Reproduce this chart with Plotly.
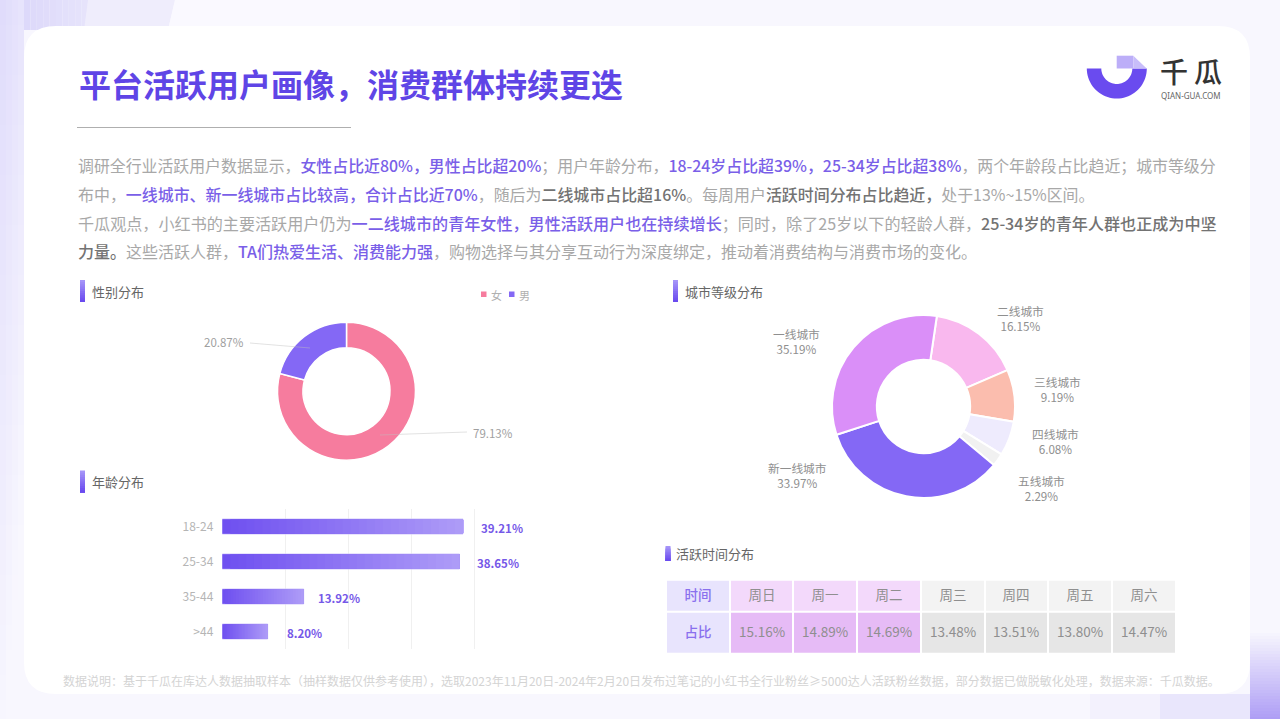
import math
import plotly.graph_objects as go

W, H = 1280, 719
FONT = "Noto Sans CJK SC"

# ---------- data ----------
title = "平台活跃用户画像，消费群体持续更迭"
P = '<span style="color:#7A5FE8;font-weight:500">'
D = '<span style="color:#737373;font-weight:500">'
E = "</span>"
body_lines = [
    f"调研全行业活跃用户数据显示，{P}女性占比近80%，男性占比超20%{E}；用户年龄分布，{P}18-24岁占比超39%，25-34岁占比超38%{E}，两个年龄段占比趋近；城市等级分",
    f"布中，{P}一线城市、新一线城市占比较高，合计占比近70%{E}，随后为{D}二线城市占比超16%{E}。每周用户{D}活跃时间分布占比趋近，{E}处于13%~15%区间。",
    f"千瓜观点，小红书的主要活跃用户仍为{P}一二线城市的青年女性，男性活跃用户也在持续增长{E}；同时，除了25岁以下的轻龄人群，{D}25-34岁的青年人群也正成为中坚{E}",
    f"{D}力量。{E}这些活跃人群，{P}TA们热爱生活、消费能力强{E}，购物选择与其分享互动行为深度绑定，推动着消费结构与消费市场的变化。",
]
footnote = "数据说明：基于千瓜在库达人数据抽取样本（抽样数据仅供参考使用），选取2023年11月20日-2024年2月20日发布过笔记的小红书全行业粉丝≥5000达人活跃粉丝数据，部分数据已做脱敏化处理，数据来源：千瓜数据。"

gender_labels = ["女", "男"]
gender_values = [79.13, 20.87]

age_labels = ["18-24", "25-34", "35-44", ">44"]
age_values = [39.21, 38.65, 13.92, 8.20]

city_labels = ["二线城市", "三线城市", "四线城市", "五线城市", "新一线城市", "一线城市"]
# Printed shares, as the reference prints them.
city_printed = [16.15, 9.19, 6.08, 2.29, 33.97, 35.19]
# Slice sizes read off the drawn arcs: the 一线城市 arc measures about 32.3%, not its printed 35.19%.
city_arcs = [16.15, 9.19, 6.08, 2.29, 33.97, 32.32]

time_head = "时间"
time_row = "占比"
time_days = ["周日", "周一", "周二", "周三", "周四", "周五", "周六"]
time_values = ["15.16%", "14.89%", "14.69%", "13.48%", "13.51%", "13.80%", "14.47%"]
time_highlight = [1, 1, 1, 0, 0, 0, 0]

# ---------- styles ----------
PINK, VIOLET = "#F67C9E", "#8468F5"
CITY_COLORS = ["#F9B8EE", "#FBBDAE", "#EEEBFD", "#F1F1F1", "#8468F5", "#DA8FF8"]
PAGE = "#F8F7FE"


def px(x):
    return x / W


def py(y):
    return 1 - y / H


shapes, annos = [], []


def rect(x0, y0, x1, y1, color, layer="below"):
    shapes.append(dict(type="rect", xref="paper", yref="paper", x0=px(x0), x1=px(x1), y0=py(y0), y1=py(y1),
                       fillcolor=color, line_width=0, layer=layer))


def poly(points, color, layer="below"):
    d = "M" + "L".join(f"{px(a):.5f},{py(b):.5f}" for a, b in points) + "Z"
    shapes.append(dict(type="path", xref="paper", yref="paper", path=d, fillcolor=color, line_width=0, layer=layer))


def line(x0, y0, x1, y1, color, width=1):
    shapes.append(dict(type="line", xref="paper", yref="paper", x0=px(x0), x1=px(x1), y0=py(y0), y1=py(y1),
                       line=dict(color=color, width=width), layer="above"))


def note(x, y, text, size, color, anchor="left", family=FONT, weight=None):
    font = dict(family=family, size=size, color=color)
    if weight:
        font["weight"] = weight
    annos.append(dict(xref="paper", yref="paper", x=px(x), y=py(y), text=text, showarrow=False, xanchor=anchor,
                      yanchor="middle", font=font, borderpad=0, borderwidth=0))


def mix(a, b, t):
    ca = [int(a[i:i + 2], 16) for i in (1, 3, 5)]
    cb = [int(b[i:i + 2], 16) for i in (1, 3, 5)]
    return "#" + "".join(f"{round(p + (q - p) * t):02X}" for p, q in zip(ca, cb))


# page background: left wash fading downwards and rightwards
for col in range(4):
    for row in range(29):
        t = (col / 3) * 0.3 + (row / 28) * 0.95
        rect(col * 6, row * 25, col * 6 + 6, row * 25 + 25, mix("#E0DCFB", PAGE, min(t, 1)))
for col in range(10):
    rect(24 + col * 6.4, 0, 24 + col * 6.4 + 6.4, 30, mix("#DDD9FA", "#E6E3FB", col / 9))
poly([(88, 0), (175, 0), (168, 30), (84, 30)], "#EFEDFC")
poly([(175, 0), (520, 0), (520, 30), (168, 30)], "#FAF9FF")
# bottom right wash
rect(1090, 694, 1160, H, "#F3F1FD")
rect(1160, 694, 1250, H, "#E9E6FC")
for row in range(30):
    rect(1250, 630 + row * 3, 1280, 630 + row * 3 + 3, mix(PAGE, "#AE9EF5", row / 29))

# white card
cx0, cy0, cx1, cy1, r = 24, 26, 1250, 694, 32
x0, y0, x1, y1 = px(cx0), py(cy0), px(cx1), py(cy1)
rx, ry = r / W, r / H
shapes.append(dict(
    type="path", xref="paper", yref="paper", fillcolor="#FFFFFF", line_width=0, layer="below",
    path=(f"M{x0 + rx},{y0}L{x1 - rx},{y0}Q{x1},{y0} {x1},{y0 - ry}L{x1},{y1 + ry}Q{x1},{y1} {x1 - rx},{y1}"
          f"L{x0 + rx},{y1}Q{x0},{y1} {x0},{y1 + ry}L{x0},{y0 - ry}Q{x0},{y0} {x0 + rx},{y0}Z")))

# title, rule, body text
note(79, 83, title, 32, "#5F45E6", weight=700)
line(77, 127.5, 351, 127.5, "#AFAFAF", 1)
for y, txt, size in zip([165.5, 194, 222.5, 251], body_lines, [15.9, 15.95, 16.1, 16.0]):
    note(78, y, txt, size, "#A8A8A8")
note(63, 680, footnote, 12.0, "#D4D4D4")

# logo
cx, cy, ro, ri = 1116.8, 68.5, 30, 15.5
outer = [(cx + ro * math.cos(math.pi * i / 40), cy + ro * math.sin(math.pi * i / 40)) for i in range(41)]
inner = [(cx + ri * math.cos(math.pi * i / 40), cy + ri * math.sin(math.pi * i / 40)) for i in range(40, -1, -1)]
poly(outer + inner, "#6A4BEF")
poly([(1116.7, 55.7), (1133.3, 55.7), (1133.3, 68.5), (1116.7, 68.5)], "#BCAEF8")
poly([(1133.3, 55.7), (1146.7, 68.5), (1133.3, 68.5)], "#C8BDFA")
note(1174, 71, "千", 28, "#333333", "center", weight=500)
note(1208, 71, "瓜", 28, "#333333", "center", weight=500)
note(1190.5, 95, "QIAN-GUA.COM", 8, "#666666", "center", "Noto Sans")


# section headers
def header(x, y, text, bar_w=5, bar_h=22, gap=7):
    n = 10
    for i in range(n):
        rect(x, y - bar_h / 2 + bar_h * i / n, x + bar_w, y + bar_h / 2, mix("#A594F8", "#6A4BEF", i / (n - 1)))
    note(x + bar_w + gap, y, text, 13, "#666666")


header(80, 291, "性别分布")
header(80, 481.5, "年龄分布")
header(673, 291, "城市等级分布")
header(665.5, 553.5, "活跃时间分布", 5, 15, 5)

# legend of gender chart
rect(481, 291.5, 486.5, 297, PINK)
note(491, 294.5, gender_labels[0], 11, "#B0B0B0")
rect(509, 291.5, 514.5, 297, VIOLET)
note(519, 294.5, gender_labels[1], 11, "#B0B0B0")

# gender donut labels
line(250, 343, 310, 348, "rgba(190,190,190,0.45)")
line(467, 432, 380, 435, "rgba(190,190,190,0.45)")
note(224, 342.5, f"{gender_values[1]:.2f}%", 11.5, "#A0A0A0", "center")
note(493, 432.5, f"{gender_values[0]:.2f}%", 11.5, "#A0A0A0", "center")

# city labels
city_xy = [(1020.7, 318.5), (1057, 388.5), (1055, 441), (1041, 488), (797.7, 475.5), (796.7, 341.5)]
for (x, y), name, v in zip(city_xy, city_labels, city_printed):
    note(x, y, f"{name}<br>{v:.2f}%", 11.7, "#8F8F8F", "center")


def domain_x(a, b):
    return [px(a), px(b)]


def domain_y(top, bottom):
    return [py(bottom), py(top)]


fig = go.Figure()

fig.add_trace(go.Pie(
    labels=gender_labels, values=gender_values, hole=0.63, sort=False, direction="clockwise", rotation=0,
    marker=dict(colors=[PINK, VIOLET], line=dict(color="#FFFFFF", width=1.5)), textinfo="none",
    showlegend=False, domain=dict(x=domain_x(277.5, 415.5), y=domain_y(322.2, 460.2))))

fig.add_trace(go.Pie(
    labels=city_labels, values=city_arcs, hole=0.51, sort=False, direction="clockwise", rotation=8.4,
    marker=dict(colors=CITY_COLORS, line=dict(color="#FFFFFF", width=2)), textinfo="none",
    showlegend=False, domain=dict(x=domain_x(832, 1015), y=domain_y(315, 498))))

# age bars: drawn on the axis, then shaded with a gradient computed from each value
fig.add_trace(go.Bar(
    x=age_values, y=age_labels, orientation="h", width=0.43, showlegend=False,
    marker=dict(color="#8E76F5", line=dict(color="#D3CAFB", width=1))))

AXIS_START = 1
for idx, v in enumerate(age_values):
    n = 30
    for i in range(n):
        shapes.append(dict(type="rect", xref="x", yref="y",
                           x0=AXIS_START + (v - AXIS_START) * i / n, x1=v, y0=idx - 0.205, y1=idx + 0.205,
                           fillcolor=mix("#6F50F0", "#AD9BF7", i / (n - 1)), line_width=0, layer="above"))

for v, name, shift in zip(age_values, age_labels, [17, 17, 13, 18]):
    annos.append(dict(xref="x", yref="y", x=v, y=name, text=f"{v:.2f}%", showarrow=False, xanchor="left",
                      yanchor="middle", xshift=shift, yshift=-1, borderpad=0,
                      font=dict(family=FONT, size=11.5, color="#7558E8", weight=700)))

# week table: the day columns share one heatmap (its first column is left empty);
# the row-label column is a second heatmap so that its text can be violet
ROW_EDGES = [0, 31, 73]
table_x = [time_head] + time_days
fig.add_trace(go.Heatmap(
    x=table_x, y=ROW_EDGES,
    z=[[None] + list(time_highlight), [None] + [t + 2 for t in time_highlight]],
    text=[[""] + time_days, [""] + time_values], texttemplate="%{text}", zmin=0, zmax=3,
    colorscale=[[0, "#F3F3F3"], [1 / 3, "#F3D9FB"], [2 / 3, "#E6E6E6"], [1, "#E6BBF6"]], showscale=False,
    xgap=2, ygap=2, hoverinfo="skip", textfont=dict(family=FONT, size=13.5, color="#8F8F8F"),
    xaxis="x2", yaxis="y2"))
fig.add_trace(go.Heatmap(
    x=[time_head], y=ROW_EDGES, z=[[0], [0]], text=[[time_head], [time_row]], texttemplate="%{text}",
    colorscale=[[0, "#E8E4FD"], [1, "#E8E4FD"]], showscale=False, xgap=2, ygap=2, hoverinfo="skip",
    textfont=dict(family=FONT, size=13.5, color="#8A70EE", weight=500), xaxis="x2", yaxis="y2"))

hidden = dict(showgrid=False, zeroline=False, showline=False, showticklabels=False, ticks="")
fig.update_layout(
    width=W, height=H, margin=dict(l=0, r=0, t=0, b=0), autosize=False,
    paper_bgcolor=PAGE, plot_bgcolor="rgba(0,0,0,0)",
    font=dict(family=FONT), shapes=shapes, annotations=annos, showlegend=False,
    xaxis=dict(domain=domain_x(222.3, 537.3), range=[AXIS_START, AXIS_START + 50], tick0=AXIS_START, dtick=10,
               showgrid=True, gridcolor="#F0F0F0", gridwidth=1, zeroline=False, showticklabels=False, showline=False),
    yaxis=dict(domain=domain_y(509, 649), autorange="reversed", showgrid=False, zeroline=False, showline=False,
               tickfont=dict(family=FONT, size=12, color="#B5B5B5"), ticks="", ticklabelstandoff=8),
    xaxis2=dict(domain=domain_x(666, 1175.6), anchor="y2", type="category",
                categoryorder="array", categoryarray=table_x, **hidden),
    yaxis2=dict(domain=domain_y(579.7, 654), anchor="x2", range=[73, 0], **hidden),
)

fig.write_html("out.html", config=dict(displayModeBar=False),
               post_script="document.body.style.margin='0';document.body.style.overflow='hidden';")
